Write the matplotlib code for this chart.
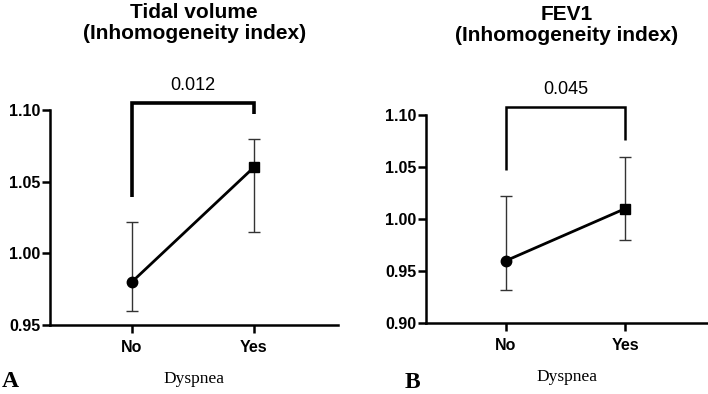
import numpy as np
import matplotlib
matplotlib.use("Agg")
import matplotlib.pyplot as plt

# data
groups = ["No", "Yes"]

tv_mean = [0.98, 1.06]
tv_low = [0.960, 1.015]
tv_high = [1.022, 1.080]
tv_p = "0.012"

fev_mean = [0.96, 1.01]
fev_low = [0.932, 0.980]
fev_high = [1.022, 1.060]
fev_p = "0.045"

sans = "Liberation Sans"
serif = "Liberation Serif"


def draw_panel(ax, mean, low, high, pval, ylim, yticks, title,
               br_top, br_left, br_right, br_lw, title_pad):
    x = np.arange(len(groups))
    mean = np.array(mean)
    yerr = [mean - np.array(low), np.array(high) - mean]
    ax.errorbar(x, mean, yerr=yerr, fmt="none", ecolor="#333333",
                elinewidth=1.0, capsize=4, capthick=1.0, zorder=2)
    ax.plot(x, mean, color="black", lw=2.0, zorder=3)
    ax.plot(x[0], mean[0], "o", color="black", ms=7.5, zorder=4)
    ax.plot(x[1], mean[1], "s", color="black", ms=7, zorder=4)

    # significance bracket
    ax.plot([x[0], x[0], x[1], x[1]], [br_left, br_top, br_top, br_right],
            color="black", lw=br_lw, clip_on=False, solid_joinstyle="miter",
            solid_capstyle="butt")
    ax.text(0.5, br_top + (ylim[1] - ylim[0]) * 0.04, pval, ha="center",
            va="bottom", fontsize=13, family=sans)

    ax.set_xlim(-0.67, 1.69)
    ax.set_ylim(*ylim)
    ax.set_yticks(yticks)
    ax.set_yticklabels(["%.2f" % t for t in yticks])
    ax.set_xticks(x)
    ax.set_xticklabels(groups)
    for lab in ax.get_xticklabels() + ax.get_yticklabels():
        lab.set_family(sans)
        lab.set_fontweight("bold")
        lab.set_fontsize(11.5)
    ax.spines["top"].set_visible(False)
    ax.spines["right"].set_visible(False)
    ax.spines["left"].set_linewidth(1.8)
    ax.spines["bottom"].set_linewidth(1.8)
    ax.tick_params(axis="y", width=1.8, length=6, pad=1)
    ax.tick_params(axis="x", width=1.8, length=6, pad=5)

    ax.set_xlabel("Dyspnea", family=serif, fontsize=12.5, labelpad=11)
    ax.set_title(title, family=sans, fontweight="bold", fontsize=15,
                 linespacing=1.15, pad=title_pad)


fig = plt.figure(figsize=(7.08, 3.94), dpi=100)
ax1 = fig.add_axes([0.0706, 0.175, 0.407, 0.546])
ax2 = fig.add_axes([0.602, 0.180, 0.397, 0.528])

draw_panel(ax1, tv_mean, tv_low, tv_high, tv_p, (0.95, 1.10),
           [0.95, 1.00, 1.05, 1.10], "Tidal volume\n(Inhomogeneity index)",
           1.105, 1.039, 1.097, 2.6, 51)
draw_panel(ax2, fev_mean, fev_low, fev_high, fev_p, (0.90, 1.10),
           [0.90, 0.95, 1.00, 1.05, 1.10], "FEV1\n(Inhomogeneity index)",
           1.108, 1.047, 1.076, 1.8, 53)

fig.text(0.003, 0.018, "A", family=serif, fontweight="bold", fontsize=17)
fig.text(0.572, 0.016, "B", family=serif, fontweight="bold", fontsize=17)

fig.savefig("out.png", dpi=100)
